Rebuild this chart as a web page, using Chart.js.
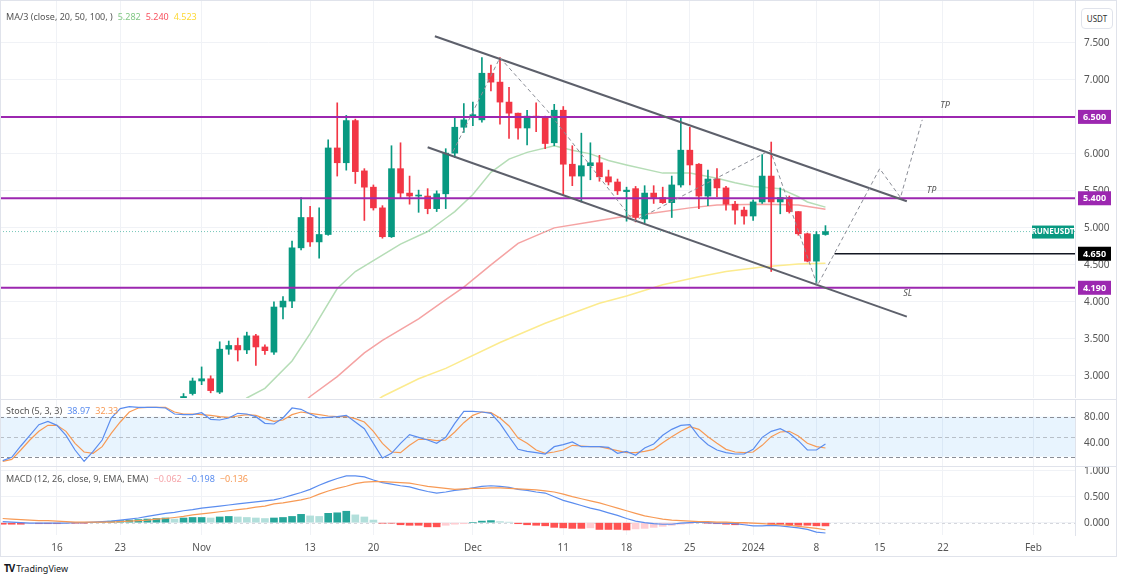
<!DOCTYPE html>
<html>
<head>
<meta charset="utf-8">
<script src="https://cdn.jsdelivr.net/npm/chart.js@4.4.1/dist/chart.umd.min.js"></script>
<style>
body { margin: 0; background: #fff; font-family: "Noto Sans", "DejaVu Sans", sans-serif; }
#wrap { position: relative; width: 1124px; height: 579px; overflow: hidden; background: #fff; }
canvas { position: absolute; left: 0; }
.sep { position: absolute; left: 0; width: 1116px; height: 1px; background: #E0E3EB; }
#frame { position: absolute; left: 0; top: 0; width: 1115px; height: 555px; border: 1px solid #E0E3EB; pointer-events: none; }
.legend { position: absolute; left: 6px; font-size: 9px; color: #555; white-space: nowrap; }
.legend span { margin-left: 5px; }
#usdt { position: absolute; left: 1081px; top: 8px; width: 30px; height: 19px; border: 1px solid #E0E3EB; border-radius: 4px;
        font-size: 8px; color: #333; text-align: center; line-height: 19px; background: #fff; }
#logo { position: absolute; left: 4px; top: 561px; font-size: 9px; color: #131722; }
#logo b { font-size: 10px; letter-spacing: -1px; margin-right: 2px; }
</style>
</head>
<body>
<div id="wrap">
  <canvas id="mainChart" width="1116" height="398" style="top:0px"></canvas>
  <canvas id="stochChart" width="1116" height="66" style="top:400px"></canvas>
  <canvas id="macdChart" width="1116" height="89" style="top:467px"></canvas>
  <div class="sep" style="top:399px"></div>
  <div class="sep" style="top:466px"></div>
  <div id="frame"></div>
  <div id="usdt">USDT</div>
  <div class="legend" style="top:10px">MA/3 (close, 20, 50, 100, )<span style="color:#81C784">5.282</span><span style="color:#F7525F">5.240</span><span style="color:#FDD835">4.523</span></div>
  <div class="legend" style="top:404px">Stoch (5, 3, 3)<span style="color:#5B8DEF">38.97</span><span style="color:#F79A55">32.33</span></div>
  <div class="legend" style="top:472px">MACD (12, 26, close, 9, EMA, EMA)<span style="color:#F5A3A8">−0.062</span><span style="color:#5B8DEF">−0.198</span><span style="color:#F79A55">−0.136</span></div>
  <div id="logo"><b>TV</b>TradingView</div>
</div>
<script>
// days are counted from 16 Oct 2023 (day 0)
const dayTicks = [0, 7, 16, 28, 35, 46, 56, 63, 70, 77, 84, 91, 98, 108];
const dayLabels = ['16', '23', 'Nov', '13', '20', 'Dec', '11', '18', '25', '2024', '8', '15', '22', 'Feb'];
const priceTicks = [3.0, 3.5, 4.0, 4.5, 5.0, 5.5, 6.0, 6.5, 7.0, 7.5];
const stochTicks = [40, 80];
const macdTicks = [0, 0.5, 1.0];

// daily candles, first one on day 14 (30 Oct)
const firstCandleDay = 14;
const open = [2.67,2.76,2.93,2.96,2.78,3.36,3.41,3.35,3.54,3.39, 3.32,3.93,4.01,4.73,5.14,4.81,4.91,6.08,5.88,6.45,
  5.77,5.55,5.27,4.88,5.80,5.47,5.43,5.43,5.26,5.46, 6.01,6.36,6.49,6.46,7.09,6.97,6.70,6.55,6.35,6.51,
  6.49,6.15,6.59,5.86,5.70,5.84,5.88,5.69,5.62,5.49, 5.53,5.12,5.47,5.41,5.34,5.58,6.05,5.86,5.43,5.66,
  5.54,5.32,5.24,5.16,5.35,5.70,5.35,5.41,5.22,4.92, 4.55,4.91];
const close = [2.72,2.93,2.96,2.80,3.36,3.41,3.35,3.54,3.39,3.34, 3.93,4.01,4.73,5.14,4.81,4.91,6.08,5.88,6.45,5.76,
  5.55,5.27,4.88,5.80,5.47,5.43,5.44,5.26,5.46,6.01, 6.36,6.46,6.53,7.09,6.97,6.70,6.55,6.35,6.51,6.49,
  6.14,6.59,5.86,5.70,5.84,5.88,5.69,5.62,5.50,5.51, 5.14,5.47,5.41,5.34,5.58,6.05,5.85,5.43,5.66,5.54,
  5.32,5.24,5.16,5.35,5.70,5.35,5.41,5.22,4.92,4.55, 4.91,4.95];
const high = [2.76,2.97,3.12,3.00,3.46,3.47,3.51,3.59,3.56,3.42, 4.00,4.07,4.82,5.41,5.29,5.27,6.19,6.69,6.52,6.47,
  5.80,5.58,5.30,6.11,6.15,5.70,5.51,5.53,5.50,6.07, 6.50,6.68,6.70,7.30,7.20,7.30,6.90,6.55,6.59,6.69,
  6.51,6.67,6.64,6.11,6.28,6.15,5.98,5.78,5.66,5.55, 5.56,5.57,5.57,5.55,5.70,6.50,6.36,5.87,5.78,5.80,
  5.56,5.36,5.28,5.38,5.99,6.16,5.54,5.43,5.22,4.93, 4.95,5.03];
const low = [2.62,2.74,2.88,2.77,2.76,3.29,3.20,3.30,3.14,3.29, 3.29,3.77,3.92,4.70,4.75,4.59,4.90,5.70,5.78,5.60,
  5.10,5.24,4.86,4.87,5.40,5.32,5.21,5.19,5.22,5.26, 5.95,6.29,6.38,6.43,6.85,6.40,6.21,6.20,6.12,6.30,
  6.07,6.11,5.45,5.57,5.35,5.65,5.63,5.58,5.45,5.09, 5.08,5.07,5.33,5.33,5.14,5.55,5.58,5.26,5.30,5.42,
  5.24,5.05,5.05,5.10,5.33,4.41,5.19,5.20,4.90,4.54, 4.23,4.90];

// moving averages: [day, value]
const ma20 = [[19,2.50],[21,2.70],[23,2.83],[26,3.20],[28,3.57],[31,4.18],[33,4.41],[36,4.63],[38,4.78],[41,4.95],
  [43,5.13],[44,5.22],[46,5.45],[48,5.75],[50,5.93],[52,6.02],[55,6.11],[57,6.05],[59,6.00],[61,5.91],[63,5.85],
  [67,5.74],[70,5.74],[73,5.67],[75,5.61],[77,5.56],[80,5.53],[82,5.42],[83,5.35],[85,5.28]];
const ma50 = [[26,2.50],[28,2.72],[31,2.99],[34,3.31],[36,3.48],[40,3.77],[43,4.03],[45,4.20],[48,4.50],[51,4.79],
  [55,5.00],[59,5.08],[62,5.14],[66,5.20],[70,5.27],[73,5.31],[78,5.32],[82,5.31],[85,5.25]];
const ma100 = [[34,2.55],[36,2.72],[40,2.96],[43,3.10],[49,3.45],[54,3.71],[60,3.98],[63,4.08],[67,4.23],[71,4.34],
  [74,4.41],[78,4.47],[82,4.51],[85,4.52]];

// drawings
const channelUpper = [[41.8,7.59],[94.0,5.36]];
const channelLower = [[41.0,6.09],[94.0,3.80]];
const projection = [[43.8,6.03],[49.0,7.30],[54.2,6.59],[63.8,5.09],[78.9,6.05],[84.1,4.22],[91.0,5.80],[93.3,5.41],[95.7,6.46]];
const levelLines = [6.5, 5.4, 4.19];
const entryLevel = 4.65;
const entryStartDay = 86;
const lastPrice = 4.95;
const notes = [['TP', 97.7, 6.66], ['TP', 96.2, 5.51], ['SL', 93.6, 4.12]];

// oscillators, one value per day starting on day -6
const oscStartDay = -6;
const stochK = [14,19,36,52,68,73,67,52,30,13, 28,45,78,92,95,94,94,94,93,84, 83,83,86,76,75,78,85,84,80,70,
  69,78,93,91,84,78,79,80,82,72, 62,40,18,25,40,53,49,45,40,49, 70,88,88,87,85,70,50,31,28,26,
  24,35,38,42,35,35,35,34,25,28, 22,33,39,52,61,67,68,50,38,30, 26,24,24,31,49,58,62,55,44,30, 30,39];
const stochD = [13,16,30,45,58,67,67,58,40,27, 25,35,55,72,87,93,94,94,94,87, 84,84,83,82,80,79,81,83,82,77,
  73,75,83,87,85,83,81,80,80,77, 72,58,40,27,26,37,46,46,44,45, 57,71,82,87,86,78,66,48,40,30,
  25,27,30,37,36,35,35,32,29,26, 26,28,31,41,50,58,65,61,50,40, 31,27,26,27,37,50,57,58,51,40, 35,33];
const macdLine = [0.02,0.01,0.00,-0.01,-0.01,-0.01,-0.01,-0.01,0.00,0.00, 0.01,0.02,0.03,0.05,0.07,0.09,0.12,0.15,0.18,0.20,
  0.23,0.25,0.28,0.30,0.32,0.34,0.36,0.38,0.40,0.42, 0.44,0.48,0.53,0.58,0.64,0.72,0.79,0.85,0.90,0.90,
  0.88,0.82,0.77,0.74,0.71,0.69,0.64,0.60,0.57,0.59, 0.62,0.64,0.67,0.70,0.71,0.70,0.68,0.64,0.62,0.59,
  0.57,0.50,0.43,0.38,0.33,0.28,0.24,0.19,0.14,0.08, 0.03,0.00,-0.02,-0.03,-0.03,-0.01,0.00,0.01,0.00,-0.01,
  -0.01,-0.02,-0.04,-0.06,-0.06,-0.05,-0.06,-0.08,-0.10,-0.13, -0.18,-0.198];
const signalLine = [0.08,0.07,0.06,0.05,0.04,0.04,0.03,0.02,0.01,0.01, 0.01,0.01,0.01,0.02,0.03,0.04,0.05,0.07,0.08,0.10,
  0.12,0.15,0.17,0.19,0.21,0.23,0.25,0.27,0.30,0.32, 0.36,0.38,0.41,0.44,0.48,0.55,0.61,0.66,0.70,0.75,
  0.78,0.79,0.79,0.78,0.77,0.76,0.73,0.70,0.68,0.66, 0.64,0.65,0.66,0.66,0.67,0.67,0.66,0.65,0.64,0.63,
  0.61,0.59,0.55,0.50,0.46,0.42,0.38,0.33,0.28,0.23, 0.18,0.13,0.10,0.07,0.05,0.04,0.03,0.02,0.02,0.01,
  0.01,0.00,0.00,-0.01,-0.02,-0.03,-0.04,-0.05,-0.07,-0.09, -0.11,-0.136];
const macdHist = [-0.03,-0.03,-0.03,-0.02,-0.02,-0.02,-0.02,-0.01,-0.01,-0.01, 0.00,0.01,0.03,0.04,0.05,0.06,0.07,0.08,0.09,0.07,
  0.09,0.10,0.10,0.09,0.11,0.12,0.11,0.10,0.09,0.08, 0.09,0.10,0.12,0.16,0.13,0.12,0.18,0.19,0.22,0.15,
  0.11,0.05,-0.01,-0.01,-0.04,-0.05,-0.05,-0.08,-0.08,-0.05, -0.03,-0.02,0.00,0.03,0.04,0.02,0.01,-0.02,-0.04,-0.05,
  -0.06,-0.09,-0.10,-0.11,-0.11,-0.10,-0.13,-0.13,-0.13,-0.14, -0.12,-0.11,-0.09,-0.07,-0.05,-0.03,-0.02,0.01,-0.01,-0.02,
  -0.03,-0.04,-0.03,-0.02,-0.01,-0.03,-0.03,-0.04,-0.05,-0.05, -0.06,-0.062];

const xMin = -6.3, xMax = 112.6;
const UP = '#089981', DOWN = '#F23645', PURPLE = '#9C27B0';
const gridColor = '#F0F2F6';
const tickFont = { family: '"Noto Sans", sans-serif', size: 10 };

const candleDays = open.map((v, i) => firstCandleDay + i);
const candleColors = open.map((o, i) => close[i] >= o ? UP : DOWN);
const oscDays = stochK.map((v, i) => oscStartDay + i);
const pts = arr => arr.map(p => ({ x: p[0], y: p[1] }));
const series = (vals) => vals.map((v, i) => ({ x: oscDays[i], y: v }));

function noPadding(s) {
    s.paddingTop = 0; s.paddingBottom = 0; s.paddingLeft = 0; s.paddingRight = 0;
}

function xScale(showLabels) {
    return {
        type: 'linear', min: xMin, max: xMax, offset: false,
        afterBuildTicks: s => { s.ticks = dayTicks.map(v => ({ value: v })); },
        afterFit: s => { s.height = showLabels ? 21 : 0; noPadding(s); },
        grid: { color: gridColor, drawTicks: false, offset: false },
        border: { display: false },
        ticks: {
            display: showLabels, autoSkip: false, maxRotation: 0, padding: 7,
            color: '#555', font: tickFont,
            callback: v => dayLabels[dayTicks.indexOf(v)]
        }
    };
}

function yScale(min, max, ticks, digits, showGrid) {
    return {
        position: 'right', min: min, max: max,
        afterBuildTicks: s => { s.ticks = ticks.map(v => ({ value: v })); },
        afterFit: s => { s.width = 41; noPadding(s); },
        grid: { display: showGrid, color: gridColor, drawTicks: false },
        border: { display: true, color: '#E0E3EB' },
        ticks: { color: '#555', font: tickFont, padding: 9, callback: v => v.toFixed(digits) }
    };
}

const baseOptions = {
    responsive: false, animation: false, devicePixelRatio: 1,
    layout: { padding: 0 },
    plugins: { legend: { display: false }, tooltip: { enabled: false } }
};

function lineSet(data, color, width, dash, order) {
    return { type: 'line', data: data, borderColor: color, borderWidth: width, borderDash: dash || [],
             pointRadius: 0, tension: 0, fill: false, order: order };
}

function axisTag(ctx, x, y, text, bg) {
    ctx.fillStyle = bg;
    ctx.fillRect(x, y - 7, 33, 14);
    ctx.fillStyle = '#fff';
    ctx.font = 'bold 9px "Noto Sans", sans-serif';
    ctx.textAlign = 'center';
    ctx.textBaseline = 'middle';
    ctx.fillText(text, x + 16.5, y + 0.5);
}

const mainDeco = {
    id: 'mainDeco',
    afterDatasetsDraw(chart) {
        const { ctx, scales: { x, y } } = chart;
        ctx.save();
        ctx.font = 'italic 9px "Noto Sans", sans-serif';
        ctx.fillStyle = '#555';
        ctx.textBaseline = 'middle';
        notes.forEach(n => ctx.fillText(n[0], x.getPixelForValue(n[1]), y.getPixelForValue(n[2])));
        ctx.restore();
    },
    afterDraw(chart) {
        const { ctx, scales: { y }, chartArea } = chart;
        ctx.save();
        levelLines.forEach(v => axisTag(ctx, chartArea.right + 3, y.getPixelForValue(v), v.toFixed(3), PURPLE));
        axisTag(ctx, chartArea.right + 3, y.getPixelForValue(entryLevel), entryLevel.toFixed(3), '#000');
        const ly = y.getPixelForValue(lastPrice);
        ctx.fillStyle = UP;
        ctx.fillRect(chartArea.right - 43, ly - 6, 42, 13);
        ctx.fillStyle = '#fff';
        ctx.font = 'bold 8px "Noto Sans", sans-serif';
        ctx.textAlign = 'center';
        ctx.textBaseline = 'middle';
        ctx.fillText('RUNEUSDT', chartArea.right - 22, ly + 0.5);
        ctx.restore();
    }
};

const stochDeco = {
    id: 'stochDeco',
    beforeDatasetsDraw(chart) {
        const { ctx, scales: { y }, chartArea } = chart;
        const y80 = y.getPixelForValue(80), y50 = y.getPixelForValue(50), y20 = y.getPixelForValue(20);
        ctx.save();
        ctx.fillStyle = 'rgba(33,150,243,0.1)';
        ctx.fillRect(chartArea.left, y80, chartArea.right - chartArea.left, y20 - y80);
        ctx.strokeStyle = '#8A8D96';
        ctx.lineWidth = 1;
        ctx.setLineDash([4, 3]);
        [y80, y50, y20].forEach((py, i) => {
            ctx.globalAlpha = i === 1 ? 0.5 : 1;
            ctx.beginPath();
            ctx.moveTo(chartArea.left, Math.round(py) + 0.5);
            ctx.lineTo(chartArea.right, Math.round(py) + 0.5);
            ctx.stroke();
        });
        ctx.restore();
    }
};

const macdDeco = {
    id: 'macdDeco',
    beforeDatasetsDraw(chart) {
        const { ctx, scales: { y }, chartArea } = chart;
        const y0 = Math.round(y.getPixelForValue(0)) + 0.5;
        ctx.save();
        ctx.strokeStyle = '#D5D7DD';
        ctx.setLineDash([3, 3]);
        ctx.beginPath();
        ctx.moveTo(chartArea.left, y0);
        ctx.lineTo(chartArea.right, y0);
        ctx.stroke();
        ctx.restore();
    }
};

// price panel
const mainDatasets = [
    lineSet(pts(ma100), '#FCEB8E', 1.5, null, 9),
    lineSet(pts(ma50), '#F5A3A3', 1.5, null, 8),
    lineSet(pts(ma20), '#B5DDB6', 1.5, null, 7),
    lineSet([{ x: xMin, y: lastPrice }, { x: xMax, y: lastPrice }], 'rgba(8,153,129,0.55)', 1, [1, 2], 6),
    {
        type: 'bar', data: candleDays.map((d, i) => ({ x: d, y: [low[i], high[i]] })),
        backgroundColor: candleColors, barThickness: 1, grouped: false, order: 5
    },
    {
        type: 'bar', data: candleDays.map((d, i) => ({ x: d, y: [open[i], close[i]] })),
        backgroundColor: candleColors, barThickness: 6, minBarLength: 1, grouped: false, order: 4
    },
    ...levelLines.map(v => lineSet([{ x: xMin, y: v }, { x: xMax, y: v }], PURPLE, 2, null, 3)),
    lineSet([{ x: entryStartDay, y: entryLevel }, { x: xMax, y: entryLevel }], '#131722', 1.5, null, 3),
    lineSet(pts(channelUpper), '#5D606B', 2, null, 2),
    lineSet(pts(channelLower), '#5D606B', 2, null, 2),
    lineSet(pts(projection), '#8A8D96', 1, [4, 3], 1)
];

new Chart(document.getElementById('mainChart'), {
    type: 'bar',
    data: { datasets: mainDatasets },
    options: { ...baseOptions, scales: { x: xScale(false), y: yScale(2.70, 8.08, priceTicks, 3, true) } },
    plugins: [mainDeco]
});

// stochastic panel
new Chart(document.getElementById('stochChart'), {
    type: 'line',
    data: {
        datasets: [
            lineSet(series(stochD), '#F79A55', 1.2, null, 2),
            lineSet(series(stochK), '#5B8DEF', 1.2, null, 1)
        ]
    },
    options: { ...baseOptions, scales: { x: xScale(false), y: yScale(6, 105, stochTicks, 2, false) } },
    plugins: [stochDeco]
});

// MACD panel
const histColors = macdHist.map((v, i) => {
    const prev = i > 0 ? macdHist[i - 1] : v;
    if (v >= 0) return v >= prev ? '#26A69A' : '#B2DFDB';
    return v <= prev ? '#FF5252' : '#FFCDD2';
});

new Chart(document.getElementById('macdChart'), {
    type: 'bar',
    data: {
        datasets: [
            lineSet(series(signalLine), '#F79A55', 1.2, null, 1),
            lineSet(series(macdLine), '#5B8DEF', 1.2, null, 2),
            { type: 'bar', data: series(macdHist), backgroundColor: histColors, barThickness: 7, grouped: false, order: 3 }
        ]
    },
    options: { ...baseOptions, scales: { x: xScale(true), y: yScale(-0.237, 1.071, macdTicks, 3, true) } },
    plugins: [macdDeco]
});
</script>
</body>
</html>
